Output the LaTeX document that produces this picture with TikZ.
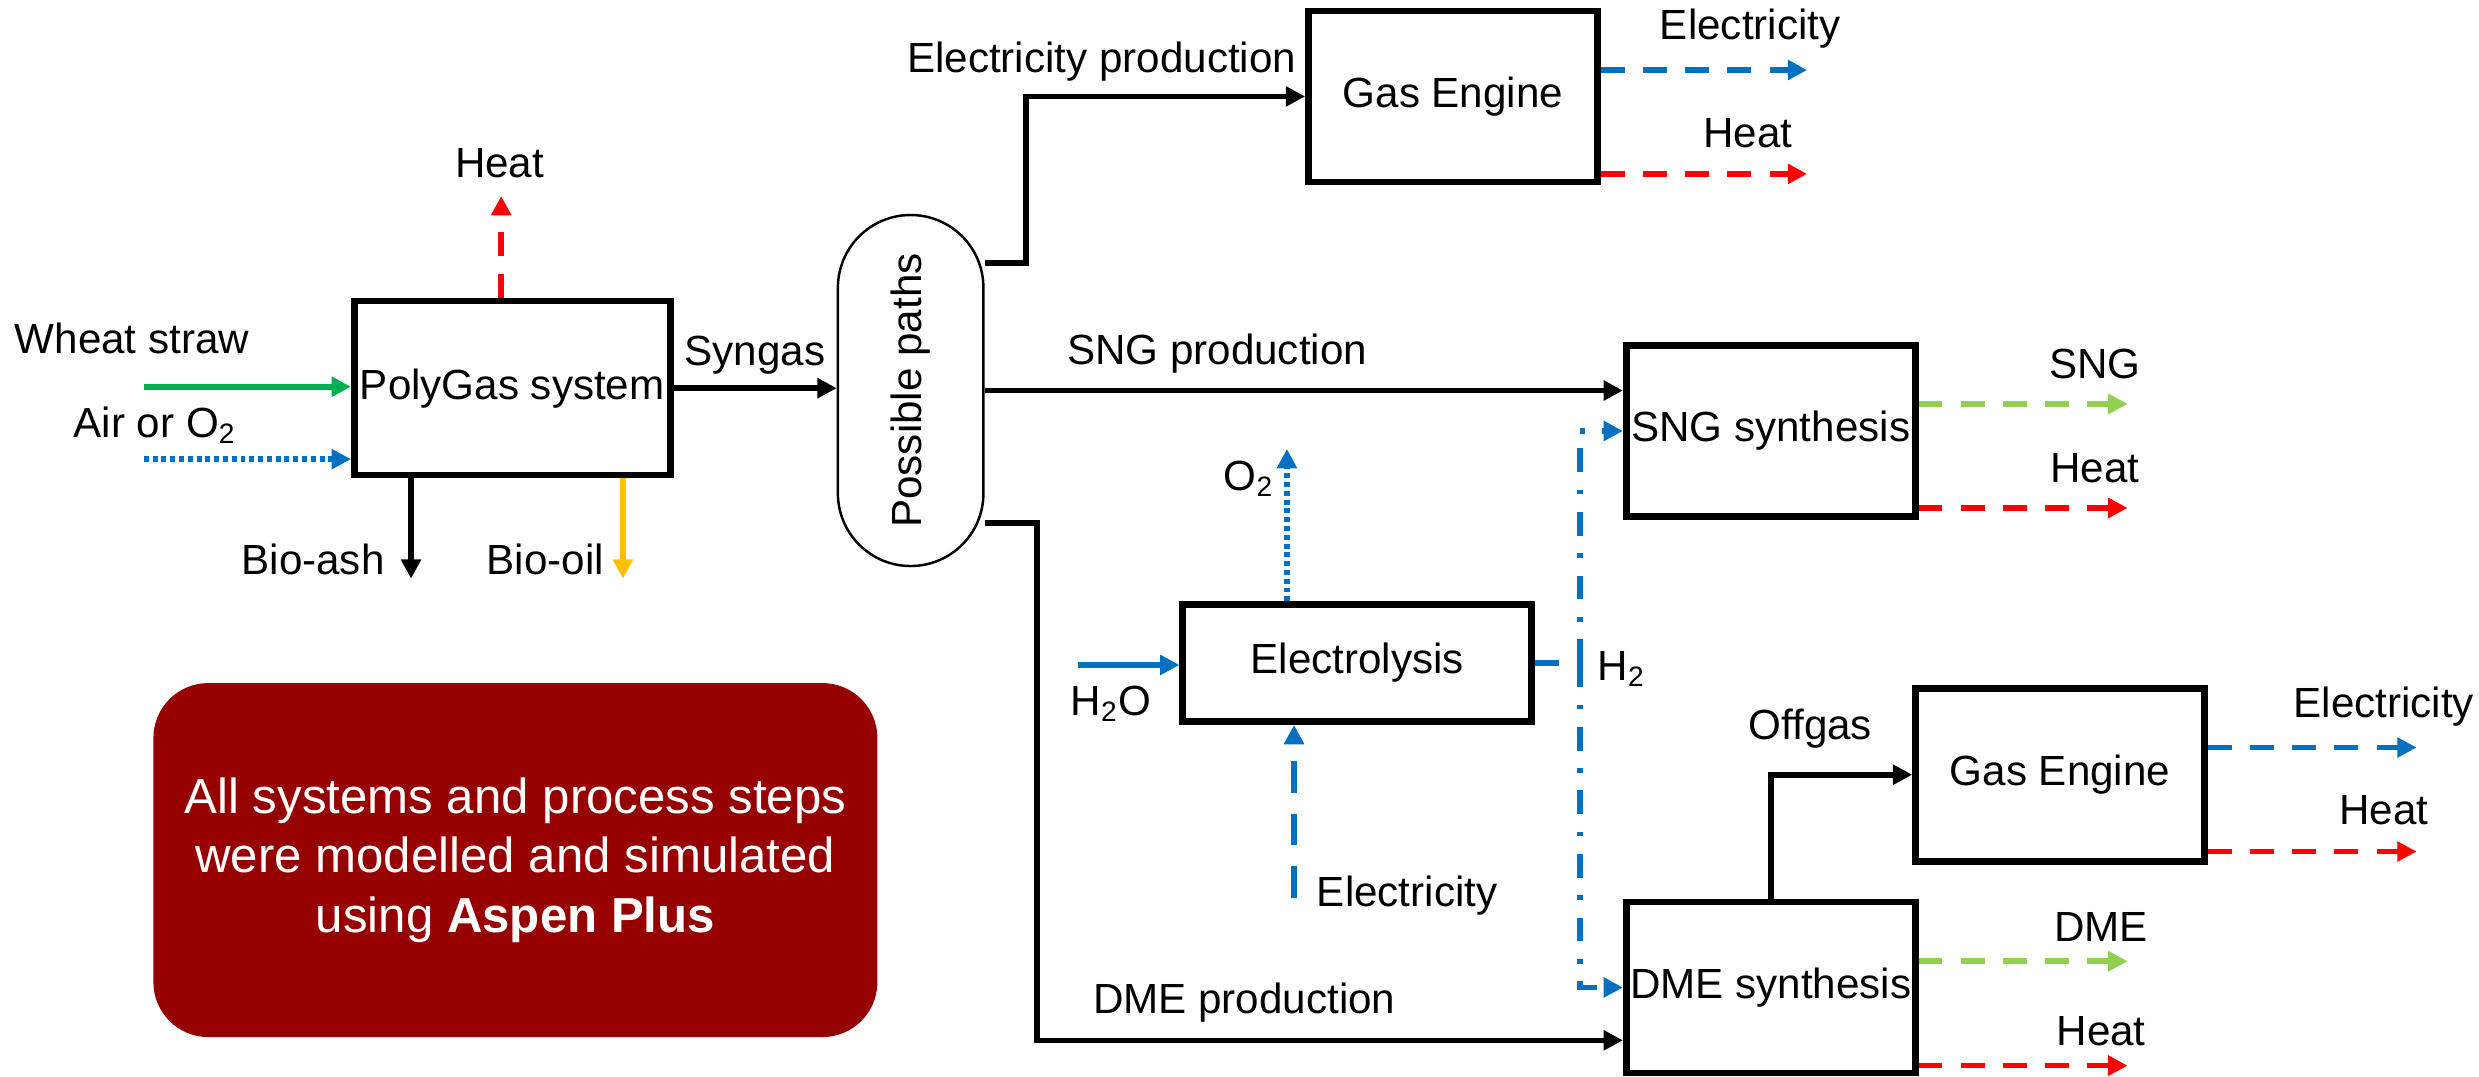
\documentclass[tikz,border=0pt]{standalone}
\usepackage{fontspec}
\setmainfont{Liberation Sans}
\usepackage{graphicx}
\usepackage{xcolor}
\usepackage{tikz}
\usetikzlibrary{arrows.meta,positioning}

\definecolor{elecblue}{HTML}{0070C0}
\definecolor{strawgreen}{HTML}{00B050}
\definecolor{prodgreen}{HTML}{92D050}
\definecolor{oilyellow}{HTML}{FFC000}
\definecolor{notered}{HTML}{960000}

\begin{document}
\begin{tikzpicture}[
    x=0.1581mm, y=-0.1581mm,
    font=\fontsize{12}{14}\selectfont,
    box/.style={rectangle, draw, line width=1.9pt, minimum width=2.89cm, minimum height=1.71cm, inner sep=0pt, align=center},
    pathbox/.style={rectangle, draw, line width=0.7pt, rounded corners=0.727cm, minimum width=1.455cm, minimum height=3.51cm, inner sep=0pt},
    notebox/.style={rectangle, rounded corners=0.55cm, fill=notered, text=white, minimum width=7.24cm, minimum height=3.54cm, align=center, font=\fontsize{14}{17}\selectfont},
    lbl/.style={inner sep=0pt},
    arrow/.style={line width=1.6pt, -{Triangle[length=5.5pt,width=5.5pt]}},
    flow/.style={arrow, black},
    heatflow/.style={arrow, red, dash pattern=on 6.8pt off 5.2pt},
    elecflow/.style={arrow, elecblue, dash pattern=on 6.8pt off 5.2pt},
    prodflow/.style={arrow, prodgreen, dash pattern=on 6.8pt off 5.2pt},
    gasflow/.style={arrow, elecblue, dash pattern=on 1.4pt off 1.1pt},
    hydroflow/.style={line width=1.6pt, elecblue, dash pattern=on 6.8pt off 5pt on 1.3pt off 5pt}
]
\useasboundingbox (0,0) rectangle (1568,681);

% units
\node[box, minimum width=3.16cm, minimum height=1.74cm] (polygas) at (324,245.5) {PolyGas system};
\node[pathbox] (paths) at (576,247) {\rotatebox{90}{Possible paths}};
\node[box] (gaseng1) at (919,61) {Gas Engine};
\node[box] (sngsyn) at (1120,272.6) {SNG synthesis};
\node[box, minimum width=3.49cm, minimum height=1.17cm] (electro) at (858.5,419.4) {Electrolysis};
\node[box, minimum height=1.73cm] (gaseng2) at (1303,490) {Gas Engine};
\node[box] (dmesyn) at (1120,624.6) {DME synthesis};
\node[notebox] (note) at (326,544) {All systems and process steps\\were modelled and simulated\\using \textbf{Aspen Plus}};

% free ends and bends
\coordinate (strawin) at (91,244.6);
\coordinate (airin) at (91,290.4);
\coordinate (polyheat) at (317,124);
\coordinate (ashout) at (260,366);
\coordinate (oilout) at (394,366);
\coordinate (bendE) at (649,166.5);
\coordinate (bendD) at (656,330.6);
\coordinate (dmelane) at (656,658);
\coordinate (ge1elec) at (1143,44.3);
\coordinate (ge1heat) at (1143,110);
\coordinate (sngout) at (1345.7,255.5);
\coordinate (sngheat) at (1345.7,321.3);
\coordinate (dmeout) at (1345.7,608);
\coordinate (dmeheat) at (1345.7,674);
\coordinate (ge2elec) at (1528.5,472.8);
\coordinate (ge2heat) at (1528.5,538.6);
\coordinate (h2oin) at (682,420.6);
\coordinate (o2out) at (814,284);
\coordinate (elecin) at (818.5,568);
\coordinate (h2bus) at (999.2,419.4);

% labels
\node[lbl] (lheat0) at (316,103) {Heat};
\node[lbl] (lstraw) at (83.5,214) {Wheat straw};
\node[lbl] (lair) at (98,269) {Air or O\textsubscript{2}};
\node[lbl] (lash) at (198,354) {Bio-ash};
\node[lbl] (loil) at (345,354) {Bio-oil};
\node[lbl] (lsyngas) at (477.5,224.6) {Syngas};
\node[lbl] (lelecprod) at (696.8,39) {Electricity production};
\node[lbl] (lelec1) at (1107,18) {Electricity};
\node[lbl] (lheat1) at (1105.6,84) {Heat};
\node[lbl] (lsngprod) at (769.8,223.4) {SNG production};
\node[lbl] (lsng) at (1325,230) {SNG};
\node[lbl] (lheat2) at (1325,296.3) {Heat};
\node[lbl] (lo2) at (790,302.7) {O\textsubscript{2}};
\node[lbl] (lh2o) at (702.7,445) {H\textsubscript{2}O};
\node[lbl] (lelec3) at (890,566.5) {Electricity};
\node[lbl] (lh2) at (1025.6,423) {H\textsubscript{2}};
\node[lbl] (loffgas) at (1145,461) {Offgas};
\node[lbl] (lelec2) at (1507.8,446.7) {Electricity};
\node[lbl] (lheat3) at (1507.8,512.6) {Heat};
\node[lbl] (ldme) at (1329,586.4) {DME};
\node[lbl] (lheat4) at (1329,652) {Heat};
\node[lbl] (ldmeprod) at (787,634) {DME production};

% gasifier
\draw[arrow, strawgreen] (strawin) -- (polygas.west |- strawin);
\draw[gasflow] (airin) -- (polygas.west |- airin);
\draw[heatflow] (polygas.north -| polyheat) -- (polyheat);
\draw[flow] (polygas.south -| ashout) -- (ashout);
\draw[arrow, oilyellow] (polygas.south -| oilout) -- (oilout);
\draw[flow] (polygas.east) -- (paths.west |- polygas.east);

% three paths
\draw[flow] (paths.east |- bendE) -- (bendE) |- (gaseng1.west);
\draw[flow] (paths.east) -- (sngsyn.west |- paths.east);
\draw[flow] (paths.east |- bendD) -- (bendD) -- (dmelane) -- (dmesyn.west |- dmelane);
\draw[flow] (dmesyn.north) |- (gaseng2.west);

% products
\draw[elecflow] (gaseng1.east |- ge1elec) -- (ge1elec);
\draw[heatflow] (gaseng1.east |- ge1heat) -- (ge1heat);
\draw[prodflow] (sngsyn.east |- sngout) -- (sngout);
\draw[heatflow] (sngsyn.east |- sngheat) -- (sngheat);
\draw[prodflow] (dmesyn.east |- dmeout) -- (dmeout);
\draw[heatflow] (dmesyn.east |- dmeheat) -- (dmeheat);
\draw[elecflow] (gaseng2.east |- ge2elec) -- (ge2elec);
\draw[heatflow] (gaseng2.east |- ge2heat) -- (ge2heat);

% electrolysis
\draw[arrow, elecblue] (h2oin) -- (electro.west |- h2oin);
\draw[gasflow] (electro.north -| o2out) -- (o2out);
\draw[elecflow, dash pattern=on 9pt off 6pt] (elecin) -- (electro.south -| elecin);
\draw[hydroflow] (electro.east) -- (h2bus);
\draw[hydroflow, -{Triangle[length=5.5pt,width=5.5pt]}] (h2bus) |- (sngsyn.west);
\draw[hydroflow, -{Triangle[length=5.5pt,width=5.5pt]}] (h2bus) |- (dmesyn.west);
\end{tikzpicture}
\end{document}
